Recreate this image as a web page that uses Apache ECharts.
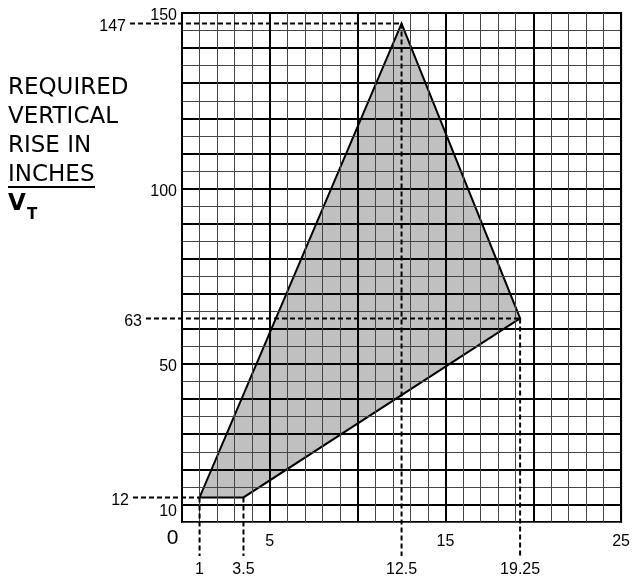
<!DOCTYPE html>
<html>
<head>
<meta charset="utf-8">
<script src="https://cdn.jsdelivr.net/npm/echarts@6/dist/echarts.min.js"></script>
<style>
  html, body { margin: 0; padding: 0; background: #fff; }
  #chart { width: 633px; height: 578px; }
</style>
</head>
<body>
<div id="chart"></div>
<script>
// shaded region corners (x, vertical rise)
const vertexX = [1, 3.5, 19.25, 12.5]
const vertexY = [12, 12, 63, 147]
// which corners get a dashed lead-out line
const hRefVertex = [3, 2, 0]     // 147, 63, 12
const vRefVertex = [0, 1, 3, 2]  // 1, 3.5, 12.5, 19.25
// tick labels actually printed
const xLabels = [0, 5, 15, 25]
const yLabels = [10, 50, 100, 150]
const titleLines = ['REQUIRED', 'VERTICAL', 'RISE IN', 'INCHES']

const X_MIN = 0, X_MAX = 25
const Y_MIN = 5, Y_MAX = 150
const hLead = [52, 36, 49]   // px the dashed lines run past the y axis
const numFont = '16px "Liberation Sans", Arial, sans-serif'

let chartDom = document.getElementById('chart')
let myChart = echarts.init(chartDom)
let option

function polygonItem (params, api) {
  if (params.dataIndex !== 0) return
  const pts = vertexX.map((x, i) => api.coord([x, vertexY[i]]))
  return {
    type: 'polygon',
    shape: { points: pts },
    style: { fill: '#c0c0c0', stroke: '#000', lineWidth: 2 }
  }
}

function hRefItem (params, api) {
  const x = api.value(0)
  const y = api.value(1)
  const p = api.coord([x, y])
  const a = api.coord([X_MIN, y])
  const sx = a[0] - hLead[params.dataIndex]
  return {
    type: 'group',
    children: [
      { type: 'line', shape: { x1: sx, y1: p[1], x2: p[0], y2: p[1] },
        style: { stroke: '#000', lineWidth: 2, lineDash: [5, 3] } },
      { type: 'text',
        style: { text: String(y), x: sx - 4, y: p[1] + 3, font: numFont, fill: '#000',
          textAlign: 'right', textVerticalAlign: 'middle', align: 'right', verticalAlign: 'middle' } }
    ]
  }
}

function vRefItem (params, api) {
  const x = api.value(0)
  const y = api.value(1)
  const p = api.coord([x, y])
  const b = api.coord([x, Y_MIN])
  return {
    type: 'group',
    children: [
      { type: 'line', shape: { x1: p[0], y1: p[1], x2: p[0], y2: b[1] + 34 },
        style: { stroke: '#000', lineWidth: 2, lineDash: [5, 3] } },
      { type: 'text',
        style: { text: String(x), x: p[0], y: b[1] + 48, font: numFont, fill: '#000',
          textAlign: 'center', textVerticalAlign: 'middle', align: 'center', verticalAlign: 'middle' } }
    ]
  }
}

option = {
  animation: false,
  backgroundColor: '#fff',
  grid: {
    left: 182,
    right: 10,
    top: 13,
    bottom: 56,
    show: true,
    borderColor: '#000',
    borderWidth: 2
  },
  graphic: [
    {
      type: 'text', left: 8, top: 74,
      style: { text: titleLines.join('\n'), font: '23px "DejaVu Sans", Verdana, sans-serif', lineHeight: 29, fill: '#000' }
    },
    {
      type: 'line', shape: { x1: 8, y1: 187, x2: 95, y2: 187 },
      style: { stroke: '#000', lineWidth: 2 }
    },
    {
      type: 'text', left: 8, top: 193,
      style: { text: 'V', font: 'bold 23px "DejaVu Sans", Verdana, sans-serif', fill: '#000' }
    },
    {
      type: 'text', left: 27, top: 208,
      style: { text: 'T', font: 'bold 15px "DejaVu Sans", Verdana, sans-serif', fill: '#000' }
    }
  ],
  xAxis: {
    type: 'value',
    min: X_MIN,
    max: X_MAX,
    interval: 5,
    z: 3,
    axisLine: { show: false },
    axisTick: { show: false },
    axisLabel: {
      margin: 12,
      color: '#000',
      fontSize: 16,
      fontFamily: '"Liberation Sans", Arial, sans-serif',
      formatter: function (v) {
        if (v === 0) return '{z|0}'
        return xLabels.indexOf(v) >= 0 ? String(v) : ''
      },
      rich: {
        z: { fontSize: 21, padding: [0, 19, 0, 0], lineHeight: 8 }
      }
    },
    splitLine: { show: true, lineStyle: { color: '#000', width: 2 } },
    minorTick: { show: false, splitNumber: 5 },
    minorSplitLine: { show: true, lineStyle: { color: '#444', width: 1 } }
  },
  yAxis: [
    {
      type: 'value',
      min: Y_MIN,
      max: Y_MAX,
      interval: 5,
      z: 3,
      axisLine: { show: false },
      axisTick: { show: false },
      axisLabel: {
        margin: 5,
        color: '#000',
        fontSize: 16,
        fontFamily: '"Liberation Sans", Arial, sans-serif',
        formatter: function (v) {
          if (yLabels.indexOf(v) < 0) return ''
          return v === 10 ? '{lo|10}' : '{n|' + v + '}'
        },
        rich: {
          n: { fontSize: 16, padding: [6, 0, 0, 0] },
          lo: { fontSize: 16, padding: [14, 0, 0, 0] }
        }
      },
      splitLine: { show: true, lineStyle: { color: '#444', width: 1 } }
    },
    {
      type: 'value',
      min: Y_MIN,
      max: Y_MAX,
      interval: 5,
      z: 3,
      position: 'left',
      axisLine: { show: false },
      axisTick: { show: false },
      axisLabel: { show: false },
      splitLine: { show: true, lineStyle: { color: ['transparent', '#000'], width: 2 } }
    }
  ],
  series: [
    {
      type: 'custom',
      z: 1,
      renderItem: polygonItem,
      data: vertexX.map((x, i) => [x, vertexY[i]])
    },
    {
      type: 'custom',
      z: 5,
      renderItem: hRefItem,
      data: hRefVertex.map(i => [vertexX[i], vertexY[i]])
    },
    {
      type: 'custom',
      z: 5,
      renderItem: vRefItem,
      data: vRefVertex.map(i => [vertexX[i], vertexY[i]])
    }
  ]
}
option && myChart.setOption(option)
</script>
</body>
</html>
